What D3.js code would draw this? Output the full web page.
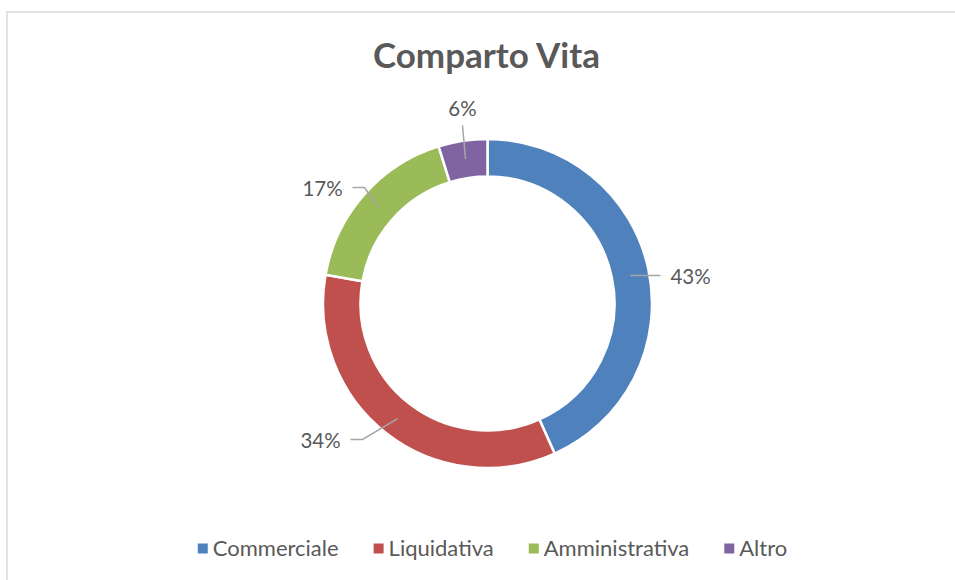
<!DOCTYPE html>
<html>
<head>
<meta charset="utf-8">
<script src="https://cdn.jsdelivr.net/npm/d3@7"></script>
<style>
  body { margin: 0; background: #fff; }
  text { font-family: Lato, "Open Sans", sans-serif; fill: #595959; }
</style>
</head>
<body>
<svg id="chart" width="955" height="580"></svg>
<script>
// data
var categories = ["Commerciale", "Liquidativa", "Amministrativa", "Altro"];
var shares = [43.3, 34.5, 17.4, 4.8];
var labels = ["43%", "34%", "17%", "6%"];
var colors = ["#4f81bd", "#c0504d", "#9bbb59", "#8064a2"];

var svg = d3.select("#chart");
var cx = 487.5, cy = 303.5;
var outerR = 164.5, innerR = 127;

// chart frame
svg.append("rect")
    .attr("x", 7).attr("y", 12)
    .attr("width", 1000).attr("height", 1000)
    .attr("fill", "none")
    .attr("stroke", "#d9d9d9")
    .attr("stroke-width", 1.5);

svg.append("text")
    .attr("x", cx - 1).attr("y", 68)
    .attr("text-anchor", "middle")
    .style("font-size", "35px")
    .style("font-weight", "bold")
    .text("Comparto Vita");

var pie = d3.pie().sort(null).value(d => d);
var arc = d3.arc().innerRadius(innerR).outerRadius(outerR);
var mid = d3.arc().innerRadius(146).outerRadius(146);

var g = svg.append("g").attr("transform", "translate(" + cx + "," + cy + ")");
var arcs = pie(shares);

g.selectAll("path.slice")
    .data(arcs)
    .enter().append("path")
    .attr("class", "slice")
    .attr("d", arc)
    .attr("fill", (d, i) => colors[i])
    .attr("stroke", "#fff")
    .attr("stroke-width", 2.5);

// label placement relative to the centre (Excel put them by hand)
var labelPos = [[203, -27], [-167, 137], [-165, -115], [-25, -195]];
var side = ["right", "left", "left", "top"];

arcs.forEach(function (d, i) {
    var c = mid.centroid(d);
    var lx = labelPos[i][0], ly = labelPos[i][1];
    var pts;
    if (side[i] == "top") {
        pts = [c, [lx, ly + 17]];
    } else if (side[i] == "left") {
        var ex = lx + 30;
        pts = [c, [ex + 12, ly - 1], [ex, ly - 1]];
    } else {
        var ex2 = lx - 30;
        pts = [[c[0], ly - 1], [ex2, ly - 1]];
    }
    g.append("polyline")
        .attr("points", pts.map(p => p.join(",")).join(" "))
        .attr("fill", "none")
        .attr("stroke", "#a6a6a6")
        .attr("stroke-width", 1.5);
    g.append("text")
        .attr("x", lx).attr("y", ly + 7.5)
        .attr("text-anchor", "middle")
        .style("font-size", "20.5px")
        .text(labels[i]);
});

// legend
var leg = svg.append("g");
var x = 0;
categories.forEach(function (c, i) {
    var item = leg.append("g").attr("transform", "translate(" + x + ",0)");
    item.append("rect")
        .attr("x", 0).attr("y", 543.5)
        .attr("width", 10).attr("height", 10)
        .attr("fill", colors[i]);
    var t = item.append("text")
        .attr("x", 15).attr("y", 556)
        .style("font-size", "22px")
        .text(c);
    x += 15 + t.node().getComputedTextLength() + 35;
});
var legW = x - 35;
leg.attr("transform", "translate(" + (cx - legW / 2 + 5) + ",0)");
</script>
</body>
</html>
